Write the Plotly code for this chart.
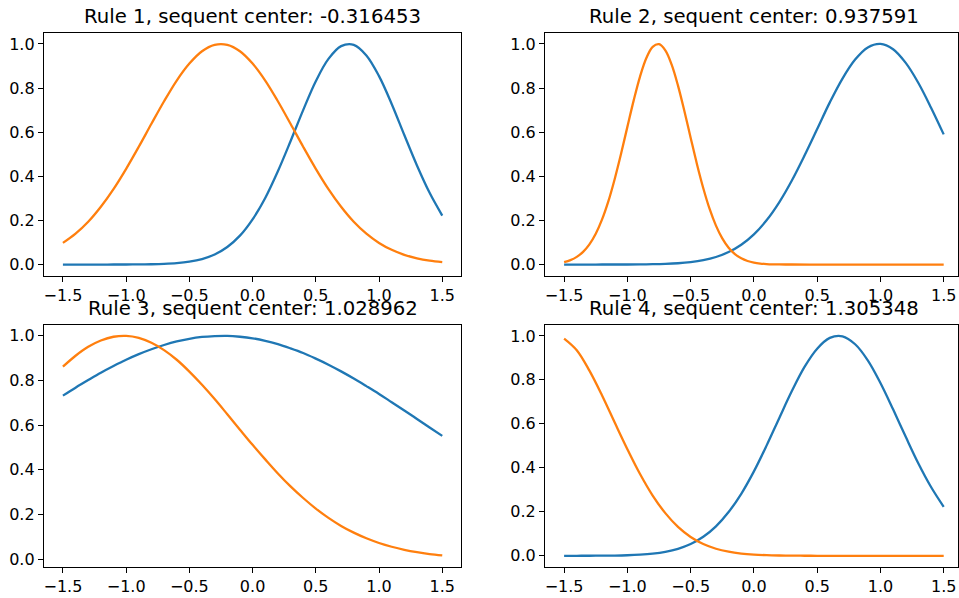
import plotly.graph_objects as go

# ---------------- data ----------------
x_vals = [-1.5, -1.4, -1.3, -1.2, -1.1, -1.0, -0.9, -0.8, -0.7, -0.6, -0.5,
          -0.4, -0.3, -0.2, -0.1, 0.0, 0.1, 0.2, 0.3, 0.4, 0.5, 0.6, 0.7,
          0.8, 0.9, 1.0, 1.1, 1.2, 1.3, 1.4, 1.5]

# finer sampling for the narrow peak of rule 2 (orange)
x_r2_orange = [-1.5, -1.45, -1.4, -1.35, -1.3, -1.25, -1.2, -1.15, -1.1, -1.05, -1.0,
               -0.95, -0.9, -0.85, -0.8, -0.75, -0.7, -0.65, -0.6, -0.55, -0.5,
               -0.45, -0.4, -0.35, -0.3, -0.25, -0.2, -0.15, -0.1, -0.05, 0.0,
               0.05, 0.1, 0.15, 0.2, 0.25, 0.3, 0.5, 0.75, 1.0, 1.25, 1.5]

titles = ["Rule 1, sequent center: -0.316453",
          "Rule 2, sequent center: 0.937591",
          "Rule 3, sequent center: 1.028962",
          "Rule 4, sequent center: 1.305348"]

r1_blue = [0.0, 0.0, 0.0, 0.0, 0.0001, 0.0002, 0.0005, 0.0013, 0.0029, 0.0062, 0.0128,
           0.0248, 0.0456, 0.0795, 0.131, 0.205, 0.302, 0.423, 0.559, 0.70, 0.831,
           0.932, 0.990, 0.996, 0.948, 0.854, 0.728, 0.587, 0.449, 0.325, 0.222]
r1_orange = [0.098, 0.140, 0.194, 0.262, 0.342, 0.434, 0.534, 0.638, 0.740, 0.834, 0.911,
             0.967, 0.996, 0.996, 0.967, 0.911, 0.834, 0.740, 0.638, 0.534, 0.434,
             0.342, 0.262, 0.194, 0.140, 0.098, 0.0667, 0.044, 0.0282, 0.0175, 0.0106]

r2_blue = [0.0, 0.0, 0.0, 0.0001, 0.0001, 0.0003, 0.0007, 0.0015, 0.0031, 0.0059, 0.0111,
           0.0199, 0.0342, 0.0566, 0.0898, 0.137, 0.2005, 0.282, 0.381, 0.494, 0.614,
           0.735, 0.843, 0.929, 0.984, 1.0, 0.976, 0.914, 0.823, 0.711, 0.590]
r2_orange = [0.0112, 0.0202, 0.0348, 0.0577, 0.0916, 0.1397, 0.2046, 0.2874, 0.388, 0.502, 0.624,
             0.744, 0.852, 0.936, 0.987, 0.999, 0.971, 0.906, 0.811, 0.697, 0.575,
             0.455, 0.346, 0.252, 0.1765, 0.1186, 0.0765, 0.0474, 0.0281, 0.0160, 0.0088,
             0.0046, 0.0023, 0.0011, 0.0005, 0.0002, 0.0001, 0.0, 0.0, 0.0, 0.0, 0.0]

r3_blue = [0.7325, 0.768, 0.802, 0.835, 0.865, 0.893, 0.918, 0.940, 0.959, 0.975, 0.987,
           0.995, 0.999, 1.000, 0.996, 0.989, 0.978, 0.963, 0.944, 0.923, 0.898,
           0.871, 0.841, 0.809, 0.775, 0.740, 0.703, 0.666, 0.628, 0.590, 0.552]
r3_orange = [0.862, 0.911, 0.951, 0.979, 0.996, 1.0, 0.991, 0.969, 0.936, 0.893, 0.840,
             0.781, 0.717, 0.649, 0.580, 0.512, 0.447, 0.384, 0.326, 0.274, 0.2266,
             0.185, 0.149, 0.119, 0.0936, 0.0726, 0.0557, 0.0421, 0.0315, 0.0232, 0.0169]

r4_blue = [0.0, 0.0001, 0.0002, 0.0006, 0.0012, 0.0025, 0.0051, 0.0097, 0.0179, 0.0316, 0.0534,
           0.0864, 0.134, 0.199, 0.282, 0.384, 0.501, 0.626, 0.749, 0.859, 0.942,
           0.991, 0.998, 0.962, 0.889, 0.786, 0.666, 0.541, 0.420, 0.313, 0.223]
r4_orange = [0.988, 0.935, 0.842, 0.729, 0.606, 0.485, 0.372, 0.274, 0.194, 0.1315, 0.0857,
             0.0536, 0.0321, 0.0185, 0.0102, 0.0054, 0.0028, 0.0014, 0.0006, 0.0003, 0.0001,
             0.0, 0.0, 0.0, 0.0, 0.0, 0.0, 0.0, 0.0, 0.0, 0.0]

x_ticks = [-1.5, -1.0, -0.5, 0.0, 0.5, 1.0, 1.5]
x_tick_labels = ["\u22121.5", "\u22121.0", "\u22120.5", "0.0", "0.5", "1.0", "1.5"]
y_ticks = [0.0, 0.2, 0.4, 0.6, 0.8, 1.0]
y_tick_labels = ["0.0", "0.2", "0.4", "0.6", "0.8", "1.0"]

blue_x = [x_vals, x_vals, x_vals, x_vals]
orange_x = [x_vals, x_r2_orange, x_vals, x_vals]
blue_series = [r1_blue, r2_blue, r3_blue, r4_blue]
orange_series = [r1_orange, r2_orange, r3_orange, r4_orange]

# ---------------- layout geometry ----------------
W, H = 959, 598
BLUE = "#1f77b4"
ORANGE = "#ff7f0e"
FONT = "DejaVu Sans"

# pixel frames: (left, right, top, bottom)
frames = [(44, 461.7, 33, 276.5),
          (545.7, 959, 33, 276.5),
          (44, 461.7, 326, 568.7),
          (545.7, 959, 326, 568.7)]
x_ranges = [[-1.65, 1.65], [-1.65, 1.613], [-1.65, 1.65], [-1.65, 1.613]]
y_ranges = [[-0.05, 1.05], [-0.05, 1.05], [-0.034, 1.049], [-0.05, 1.05]]
title_px = [(253, 16.5), (754.7, 16.5), (253, 310), (754.7, 310)]

fig = go.Figure()
layout = dict(
    width=W, height=H,
    margin=dict(l=0, r=0, t=0, b=0),
    paper_bgcolor="white", plot_bgcolor="white",
    showlegend=False,
    font=dict(family=FONT, color="black"),
    annotations=[],
)

for i in range(4):
    n = "" if i == 0 else str(i + 1)
    xa, ya = "x" + n, "y" + n
    l, r, t, b = frames[i]
    fig.add_trace(go.Scatter(x=blue_x[i], y=blue_series[i], mode="lines", xaxis=xa, yaxis=ya,
                             line=dict(color=BLUE, width=2.3, shape="spline", smoothing=1.0)))
    fig.add_trace(go.Scatter(x=orange_x[i], y=orange_series[i], mode="lines", xaxis=xa, yaxis=ya,
                             line=dict(color=ORANGE, width=2.3, shape="spline", smoothing=1.0)))
    common = dict(showgrid=False, zeroline=False, showline=True, linecolor="black",
                  linewidth=1.3, mirror=True, ticks="outside", ticklen=5, tickwidth=1.2,
                  tickcolor="black", tickfont=dict(family=FONT, size=16, color="black"))
    layout["xaxis" + n] = dict(common, domain=[l / W, r / W], range=x_ranges[i],
                               anchor=ya, tickvals=x_ticks, ticktext=x_tick_labels)
    layout["yaxis" + n] = dict(common, domain=[1 - b / H, 1 - t / H], range=y_ranges[i],
                               anchor=xa, tickvals=y_ticks, ticktext=y_tick_labels)
    tx, ty = title_px[i]
    layout["annotations"].append(dict(text=titles[i], x=tx / W, y=1 - ty / H,
                                      xref="paper", yref="paper", showarrow=False,
                                      xanchor="center", yanchor="middle",
                                      font=dict(family=FONT, size=19.7, color="black")))

fig.update_layout(**layout)
fig.write_html("out.html")
